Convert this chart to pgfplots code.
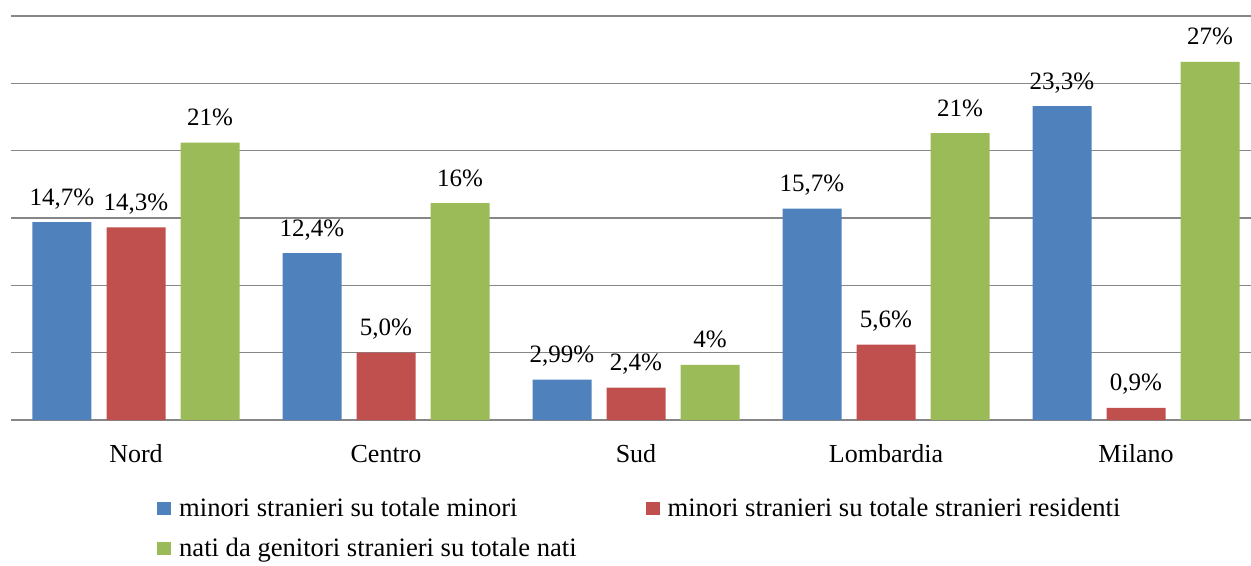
\documentclass[border=0pt]{standalone}
\usepackage{pgfplots}
\pgfplotsset{compat=1.18}
\usepackage{pgfplotstable}
\usepackage{fontspec}
\setmainfont{Liberation Serif}
\usetikzlibrary{calc}
\definecolor{cb}{HTML}{4F81BD}
\definecolor{cr}{HTML}{C0504D}
\definecolor{cg}{HTML}{9BBB59}
\definecolor{gridc}{HTML}{868686}

\pgfplotstableread{
x b bl r rl g gv
0 14.7 14,7 14.3 14,3 20.6 21
1 12.4 12,4 5.0 5,0 16.1 16
2 2.99 2,99 2.4 2,4 4.1 4
3 15.7 15,7 5.6 5,6 21.3 21
4 23.3 23,3 0.9 0,9 26.6 27
}\data

\pgfplotsset{sq/.style={legend image code/.code={\fill[##1] (0bp,-6.5bp) rectangle (14bp,6.5bp);}}}

\begin{document}
\begin{tikzpicture}
\begin{axis}[
  name=ax,
  scale only axis,
  width=1240bp, height=404bp,
  xmin=-0.5, xmax=4.46,
  ymin=0, ymax=30,
  ybar=15bp, bar width=59bp,
  ytick={0,5,...,30}, yticklabels={},
  ymajorgrids,
  grid style={gridc, line width=1.5bp},
  axis line style={draw=none},
  major tick length=0pt,
  xtick={0,1,2,3,4},
  xticklabels={Nord,Centro,Sud,Lombardia,Milano},
  xticklabel style={anchor=base, yshift=-42bp, font=\fontsize{26bp}{30bp}\selectfont},
  clip=false,
  point meta=explicit symbolic,
  nodes near coords={\pgfplotspointmeta\%},
  nodes near coords style={anchor=base, yshift=17bp, font=\fontsize{25bp}{30bp}\selectfont, text=black},
  legend columns=2,
  legend cell align=left,
  legend style={at={(0,0)}, anchor=north west, xshift=146bp, yshift=-76bp,
    draw=none, fill=none, inner sep=0pt, row sep=16bp,
    font=\fontsize{26.6bp}{30bp}\selectfont,
    /tikz/every odd column/.append style={column sep=6bp},
    /tikz/every even column/.append style={column sep=67bp}},
]
\addplot[fill=cb, draw=none, sq] table[x=x, y=b, meta=bl] {\data};
\addlegendentry{minori stranieri su totale minori}
\addplot[fill=cr, draw=none, sq] table[x=x, y=r, meta=rl] {\data};
\addlegendentry{minori stranieri su totale stranieri residenti}
\addplot[fill=cg, draw=none, sq] table[x=x, y=g, meta=gv] {\data};
\addlegendentry{nati da genitori stranieri su totale nati}
\end{axis}
\pgfresetboundingbox
\path[use as bounding box] ($(ax.south west)+(-11bp,-145bp)$) rectangle ($(ax.north east)+(0bp,16bp)$);
\end{tikzpicture}
\end{document}
